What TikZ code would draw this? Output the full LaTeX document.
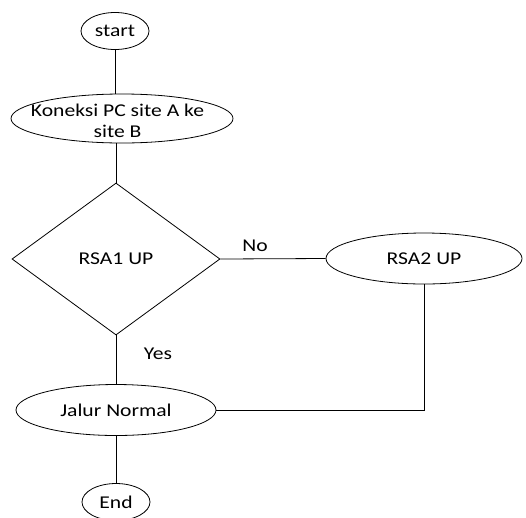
\documentclass[tikz,border=0pt]{standalone}
\usepackage{fontspec}
\setmainfont[FakeStretch=1.2]{Carlito}
\usetikzlibrary{shapes.geometric}
\begin{document}
\begin{tikzpicture}[x=1pt,y=-1pt,
  every node/.style={font=\fontsize{18}{21}\selectfont},
  term/.style={ellipse, draw, line width=0.8pt, inner sep=0pt},
  decide/.style={diamond, draw, line width=0.8pt, inner sep=0pt},
  conn/.style={line width=0.8pt},
  lbl/.style={inner sep=0pt}]
\useasboundingbox (0,0) rectangle (526,517);
\node[term, minimum width=68pt, minimum height=37pt, label={center:start}] (start) at (115,31) {};
\node[term, minimum width=222pt, minimum height=49pt] (kon) at (122,118.5) {};
\node[lbl, align=center] (kontext) at (117.5,121) {Koneksi PC site A ke\\site B};
\node[decide, minimum width=208pt, minimum height=152pt, label={center:RSA1 UP}] (dec) at (116,259) {};
\node[term, minimum width=196pt, minimum height=51pt, label={center:RSA2 UP}] (rsa2) at (424,258.5) {};
\node[term, minimum width=200pt, minimum height=51pt, label={center:Jalur Normal}] (jalur) at (116,410) {};
\node[term, minimum width=68pt, minimum height=37pt, label={center:End}] (end) at (116,502) {};
\node[lbl] (no) at (255,246) {No};
\node[lbl] (yes) at (158,354) {Yes};
\draw[conn] (start.south) -- (start.south |- kon.north);
\draw[conn] (dec.north |- kon.south) -- (dec.north);
\draw[conn] (dec.east) -- (rsa2.west);
\draw[conn] (dec.south) -- (jalur.north);
\draw[conn] (jalur.south) -- (end.north);
\draw[conn] (rsa2.south) -- (rsa2.south |- jalur.east) -- (jalur.east);
\end{tikzpicture}
\end{document}
